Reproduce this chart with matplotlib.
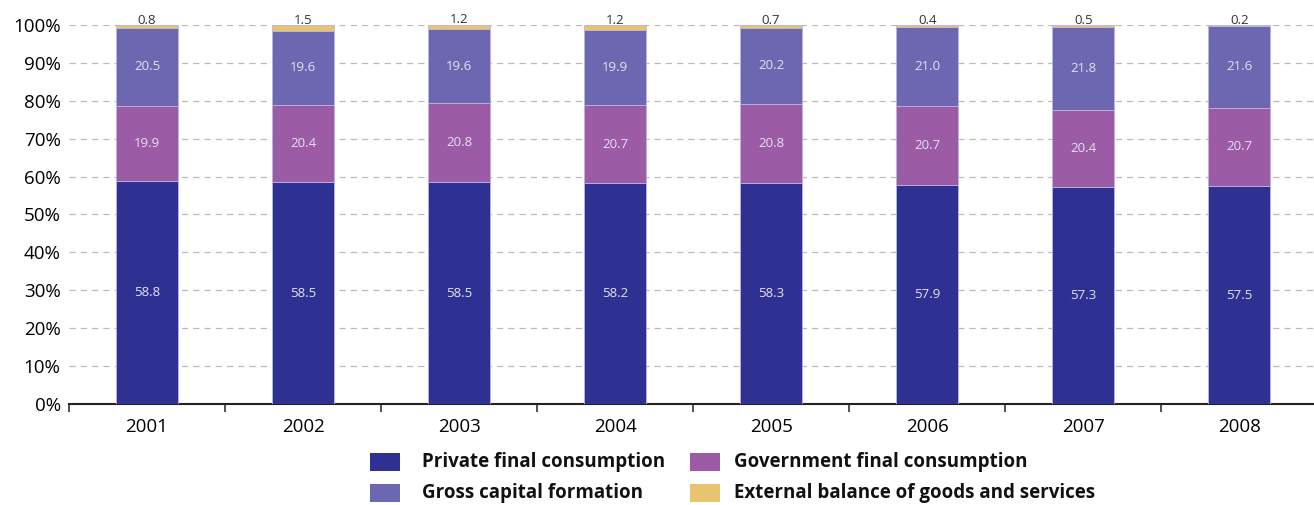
import matplotlib
matplotlib.use("Agg")
import matplotlib.pyplot as plt
from matplotlib.patches import Rectangle
from matplotlib.ticker import FixedLocator, PercentFormatter

years = ["2001", "2002", "2003", "2004", "2005", "2006", "2007", "2008"]
private = [58.8, 58.5, 58.5, 58.2, 58.3, 57.9, 57.3, 57.5]
government = [19.9, 20.4, 20.8, 20.7, 20.8, 20.7, 20.4, 20.7]
capital = [20.5, 19.6, 19.6, 19.9, 20.2, 21.0, 21.8, 21.6]
external = [0.8, 1.5, 1.2, 1.2, 0.7, 0.4, 0.5, 0.2]

names = ["Private final consumption", "Government final consumption",
         "Gross capital formation", "External balance of goods and services"]
colors = ["#2E3192", "#9B5BA5", "#6C67B0", "#E9C46E"]

plt.rcParams["font.family"] = ["Open Sans", "DejaVu Sans"]

W, H = 1314, 505
fig = plt.figure(figsize=(W / 100, H / 100), dpi=100)
ax = fig.add_axes([0.0525, 0.2, 0.9500, 0.7505])

x = list(range(len(years)))
width = 0.4
bottoms = [0.0] * len(years)
series = [private, government, capital, external]
for vals, col in zip(series, colors):
    bars = ax.bar(x, vals, width, bottom=bottoms, color=col,
                  edgecolor="#B8B6DC", linewidth=0.6, zorder=3)
    bottoms = [b + v for b, v in zip(bottoms, vals)]
    if vals is external:
        for xi, b, v in zip(x, bottoms, vals):
            ax.text(xi, b - 0.4, f"{v:.1f}", ha="center", va="bottom",
                    fontsize=9.5, color="#333333", zorder=4)
    else:
        for rect, v in zip(bars, vals):
            ax.text(rect.get_x() + rect.get_width() / 2,
                    rect.get_y() + rect.get_height() / 2, f"{v:.1f}",
                    ha="center", va="center", fontsize=9.5, color="#E4E2F4",
                    zorder=4)

ax.set_xlim(-0.5, len(years) - 0.5)
ax.set_ylim(0, 100)
ax.set_yticks(range(0, 101, 10))
ax.yaxis.set_major_formatter(PercentFormatter(decimals=0))
ax.grid(axis="y", linestyle=(0, (5, 4)), color="#BBBBBB", linewidth=0.9, zorder=0)
ax.tick_params(axis="y", length=0, labelsize=13.5, pad=6)

ax.set_xticks(x)
ax.set_xticklabels(years)
ax.xaxis.set_minor_locator(FixedLocator([i - 0.5 for i in range(len(years) + 1)]))
ax.tick_params(axis="x", which="major", length=0, labelsize=13.5, pad=10)
ax.tick_params(axis="x", which="minor", length=6, width=1.2, direction="out",
               color="#333333")

for side in ("left", "right", "top"):
    ax.spines[side].set_visible(False)
ax.spines["bottom"].set_linewidth(1.5)
ax.spines["bottom"].set_color("#222222")

# Legend in two rows, filled row by row
col_x = [370, 690]
text_x = [422, 734]
row_y = [462, 493]
for i, (name, col) in enumerate(zip(names, colors)):
    r, c = divmod(i, 2)
    cy = 1 - row_y[r] / H
    fig.patches.append(Rectangle((col_x[c] / W, cy - 9 / H), 30 / W, 18 / H,
                                 transform=fig.transFigure, facecolor=col,
                                 edgecolor="none"))
    fig.text(text_x[c] / W, cy, name, ha="left", va="center",
             fontsize=13.5, fontweight="bold", color="#111111")

fig.savefig("out.png", dpi=100)
